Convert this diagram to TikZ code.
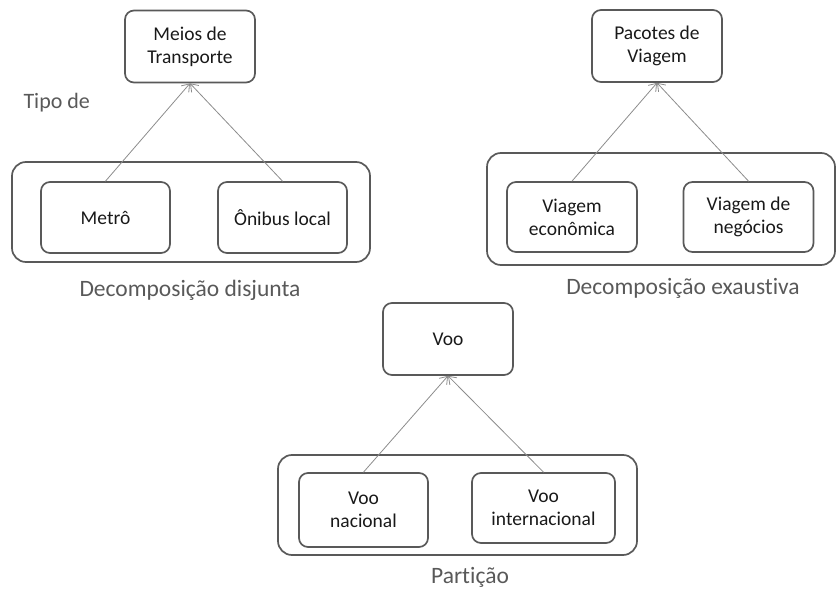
\documentclass[tikz,border=0pt]{standalone}
\usepackage{fontspec}
\setmainfont{Carlito}[Ligatures=NoCommon]
\usetikzlibrary{arrows.meta}

\begin{document}
\begin{tikzpicture}[x=1pt,y=-1pt,line cap=round,line join=round,
  caixa/.style={draw=black!65,line width=1.7pt,rounded corners=9pt,minimum width=130pt,minimum height=72pt,inner sep=0pt,align=center,text=black!90,font=\fontsize{19.5}{23}\selectfont},
  grupo/.style={draw=black!65,line width=1.7pt,rounded corners=14pt,inner sep=0pt},
  rotulo/.style={text=black!65,font=\fontsize{23.5}{28}\selectfont},
  seta/.style={draw=black!45,line width=0.8pt,-{Straight Barb[length=7pt,width=10pt]}}]
\useasboundingbox (0,0) rectangle (836,591);

% tipo de
\node[caixa] (meios) at (190,46.5) {Meios de\\Transporte};
\node[grupo,minimum width=358pt,minimum height=100pt] (disjunta) at (191,212) {};
\node[caixa,minimum width=129pt,minimum height=71pt] (metro) at (105.5,217.5) {Metrô};
\node[caixa,minimum width=129pt,minimum height=71pt] (onibus) at (282.5,217.5) {Ônibus local};
\node[rotulo,anchor=west,font=\fontsize{22}{26}\selectfont] (tipo) at (20,103) {Tipo de};
\node[rotulo] (ldisjunta) at (190,290) {Decomposição disjunta};
\draw[seta] (metro.north) -- (meios.south);
\draw[seta] (onibus.north) -- (meios.south);

% exaustiva
\node[caixa] (pacotes) at (657,46) {Pacotes de\\Viagem};
\node[grupo,minimum width=348pt,minimum height=112pt] (exaustiva) at (661,209) {};
\node[caixa,minimum height=70pt] (economica) at (572,217) {Viagem\\econômica};
\node[caixa,minimum height=70pt] (negocios) at (748.5,217) {Viagem de\\negócios};
\node[rotulo] (lexaustiva) at (683,288) {Decomposição exaustiva};
\draw[seta] (economica.north) -- (pacotes.south);
\draw[seta] (negocios.north) -- (pacotes.south);

% particao
\node[caixa] (voo) at (448,339) {Voo};
\node[grupo,minimum width=359pt,minimum height=100pt] (particao) at (457.5,505) {};
\node[caixa,minimum width=129pt,minimum height=74pt] (nacional) at (363.5,510) {Voo\\nacional};
\node[caixa,minimum width=143pt,minimum height=70pt] (internacional) at (543.5,508) {Voo\\internacional};
\node[rotulo] (lparticao) at (470,577) {Partição};
\draw[seta] (nacional.north) -- (voo.south);
\draw[seta] (internacional.north) -- (voo.south);
\end{tikzpicture}
\end{document}
